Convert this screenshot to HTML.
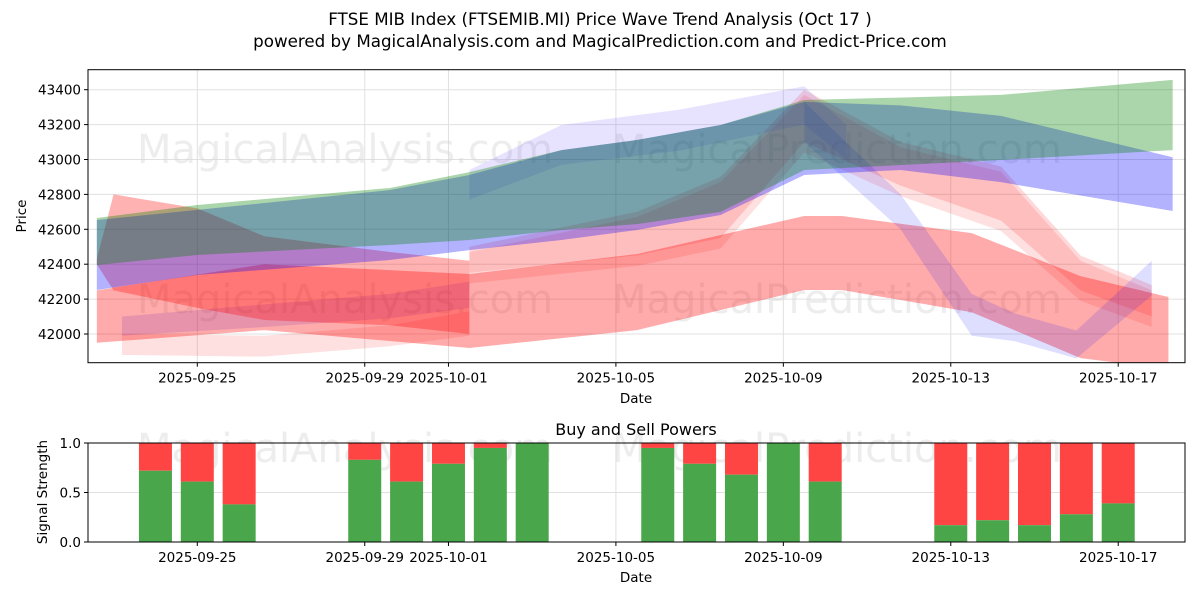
<!DOCTYPE html>
<html><head><meta charset="utf-8"><style>
html,body{margin:0;padding:0;background:#fff;}
svg{display:block;font-family:"DejaVu Sans","Liberation Sans",sans-serif;}
</style></head><body>
<svg id="chart" width="1200" height="600" viewBox="0 0 1200 600" xmlns="http://www.w3.org/2000/svg">
<text x="600" y="25" text-anchor="middle" font-size="16.7">FTSE MIB Index (FTSEMIB.MI) Price Wave Trend Analysis (Oct 17 )</text>
<text x="600" y="47" text-anchor="middle" font-size="16.7">powered by MagicalAnalysis.com and MagicalPrediction.com and Predict-Price.com</text>
<g id="topPanel"></g>
<g id="botPanel"></g>
</svg>
<script>
// ---- data ----
const tickDays = [0, 4, 6, 10, 14, 18, 22];
const tickLabels = ["2025-09-25","2025-09-29","2025-10-01","2025-10-05","2025-10-09","2025-10-13","2025-10-17"];
const priceTicks = [42000, 42200, 42400, 42600, 42800, 43000, 43200, 43400];
const greenDays = [-2.4,0,4.6,6.5,8.7,10.5,12.5,14.5,19.2,23.3];
const greenHi = [42665,42739,42837,42928,43054,43112,43198,43341,43370,43456];
const greenLo = [42395,42453,42510,42539,42596,42630,42700,42940,42997,43054];
const blueDays = [-2.4,0,4.6,6.5,8.7,10.5,12.5,14.5,16.8,19.2,23.3];
const blueHi = [42653,42711,42825,42911,43054,43112,43198,43330,43310,43250,43013];
const blueLo = [42252,42338,42424,42481,42539,42596,42682,42911,42940,42870,42705];
const redDays = [-2.4,1.6,6.5,10.5,14.5,15.4,18.5,21.1,23.2];
const redHi = [42250,42400,42344,42458,42676,42676,42578,42332,42212];
const redLo = [41950,42022,41920,42022,42252,42252,42125,41862,41799];
const red2Days = [-2.4,-2,0,1.6,4.6,6.5];
const red2Hi = [42430,42800,42720,42560,42470,42420];
const red2Lo = [42400,42250,42150,42080,42050,42000];
const pinkDays = [6.5,10.5,12.5,14.5,16.8,19.2,21.1,22.8];
const pinkHi = [42500,42700,42900,43400,43100,42960,42450,42280];
const pinkLo = [42350,42450,42550,43100,42850,42650,42250,42100];
const lblueDays = [14.5,16.8,18.5,19.5,21,22.8];
const lblueHi = [43330,42800,42230,42120,42020,42420];
const lblueLo = [43100,42600,41990,41960,41860,42220];
const purpleDays = [6.5,8.7,11.5,14.5,15.5];
const purpleHi = [42940,43198,43285,43420,43200];
const purpleLo = [42770,42970,43050,43200,43000];
const lpinkDays = [-1.8,1.6,4.6,6.5];
const lpinkHi = [42000,41990,42050,42130];
const lpinkLo = [41880,41870,41930,41990];
const lbl2Days = [-1.8,1.6,4.6,6.5];
const lbl2Hi = [42100,42170,42230,42300];
const lbl2Lo = [41990,42040,42090,42150];
const barDays = [-1,0,1,4,5,6,7,8,11,12,13,14,15,18,19,20,21,22];
const buyPower = [0.72,0.61,0.38,0.83,0.61,0.79,0.95,1.0,0.95,0.79,0.68,1.0,0.61,0.17,0.22,0.17,0.28,0.39];

// ---- scales ----
const L=88,R=1185,T1=69.7,B1=362.7,T2=443,B2=542;
const xS = d => 197.3 + 41.86*d;
const yP = v => 89.7 + (43400 - v)*0.1745;
const yB = v => B2 - (B2-T2)*v;
const NS="http://www.w3.org/2000/svg";
const FS=13.5;
function mk(parent, tag, attrs, txt){
  const e=document.createElementNS(NS,tag);
  for(const k in attrs) e.setAttribute(k, attrs[k]);
  if(txt!==undefined) e.textContent=txt;
  parent.appendChild(e); return e;
}
const topG=document.getElementById('topPanel'), botG=document.getElementById('botPanel');
const clip=mk(document.getElementById('chart'),'clipPath',{id:'c1'});
mk(clip,'rect',{x:L,y:T1,width:R-L,height:B1-T1});

// grids
priceTicks.forEach((v,i)=>{
  const g=mk(topG,'line',{x1:L,x2:R,y1:yP(v),y2:yP(v),stroke:'#e0e0e0','stroke-width':1});
  
  
  const t=mk(topG,'text',{x:L-7,y:yP(v)+5,'text-anchor':'end','font-size':FS},String(v));
  
  
});
tickDays.forEach((d,i)=>{
  [[T1,B1],[T2,B2]].forEach(([a,b],j)=>{
    const p=j?botG:topG;
    const g=mk(p,'line',{x1:xS(d),x2:xS(d),y1:a,y2:b,stroke:'#e0e0e0','stroke-width':1});
    
    
    mk(p,'line',{x1:xS(d),x2:xS(d),y1:b,y2:b+4,stroke:'#000'});
    const t=mk(p,'text',{x:xS(d),y:b+20,'text-anchor':'middle','font-size':FS},tickLabels[i]);
    
    
  });
});
[0,0.5,1].forEach(v=>{
  const g=mk(botG,'line',{x1:L,x2:R,y1:yB(v),y2:yB(v),stroke:'#e0e0e0'});
  
  
  mk(botG,'line',{x1:L-4,x2:L,y1:yB(v),y2:yB(v),stroke:'#000'});
  const t=mk(botG,'text',{x:L-7,y:yB(v)+5,'text-anchor':'end','font-size':FS},v.toFixed(1));
  
  
});
priceTicks.forEach(v=>mk(topG,'line',{x1:L-4,x2:L,y1:yP(v),y2:yP(v),stroke:'#000'}));

// watermarks
[[345,163,'MagicalAnalysis.com',topG],[837,163,'MagicalPrediction.com',topG],[345,313,'MagicalAnalysis.com',topG],[837,313,'MagicalPrediction.com',topG],[345,462,'MagicalAnalysis.com',botG],[837,462,'MagicalPrediction.com',botG]].forEach(w=>{
  const t=mk(w[3],'text',{x:w[0],y:w[1],'text-anchor':'middle','font-size':40,fill:'#d8d8d8','fill-opacity':0.45},w[2]);
  
  
});

// bands
const bandG=mk(topG,'g',{'clip-path':'url(#c1)'});
function band(days,hi,lo,color,op,name){
  const pts=[];
  days.forEach((d,i)=>pts.push(xS(d)+','+yP(hi[i])));
  for(let i=days.length-1;i>=0;i--) pts.push(xS(days[i])+','+yP(lo[i]));
  const p=mk(bandG,'polygon',{points:pts.join(' '),fill:color,'fill-opacity':op});
  
  
}
band(lpinkDays,lpinkHi,lpinkLo,'#ff0000',0.12,'light-pink-band');
band(lbl2Days,lbl2Hi,lbl2Lo,'#0000ff',0.14,'light-blue-band-left');
band(redDays,redHi,redLo,'#ff0000',0.33,'red-band');
band(pinkDays,pinkHi,pinkLo,'#ff0000',0.15,'pink-band');
band(pinkDays,pinkHi.map(v=>v-30),pinkLo.map(v=>v-60),'#ff0000',0.12,'pink-band-2');
band(lblueDays,lblueHi,lblueLo,'#0000ff',0.13,'light-blue-band');
band(purpleDays,purpleHi,purpleLo,'#6040ff',0.15,'purple-band');
band(red2Days,red2Hi,red2Lo,'#ff0000',0.3,'red-band-early');
band(blueDays,blueHi,blueLo,'#0000ff',0.3,'blue-band');
band(greenDays,greenHi,greenLo,'#008000',0.33,'green-band');

// bars
barDays.forEach((d,i)=>{
  const x=xS(d)-16.5, b=buyPower[i];
  const s=mk(botG,'rect',{x:x,y:yB(1),width:33,height:yB(b)-yB(1),fill:'#ff4444'});
  
  
  const g=mk(botG,'rect',{x:x,y:yB(b),width:33,height:yB(0)-yB(b),fill:'#4aa64a'});
  
  
});

// frames and labels
const f1=mk(topG,'rect',{x:L,y:T1,width:R-L,height:B1-T1,fill:'none',stroke:'#000'});


const f2=mk(botG,'rect',{x:L,y:T2,width:R-L,height:B2-T2,fill:'none',stroke:'#000'});


const a1=mk(topG,'text',{x:636,y:403,'text-anchor':'middle','font-size':FS},'Date');


const a2=mk(topG,'text',{x:26,y:216,'text-anchor':'middle','font-size':FS,transform:'rotate(-90 26 216)'},'Price');


const a3=mk(botG,'text',{x:636,y:582,'text-anchor':'middle','font-size':FS},'Date');


const a4=mk(botG,'text',{x:47,y:492,'text-anchor':'middle','font-size':FS,transform:'rotate(-90 47 492)'},'Signal Strength');


const a5=mk(botG,'text',{x:636,y:435,'text-anchor':'middle','font-size':16},'Buy and Sell Powers');


</script>
</body></html>
